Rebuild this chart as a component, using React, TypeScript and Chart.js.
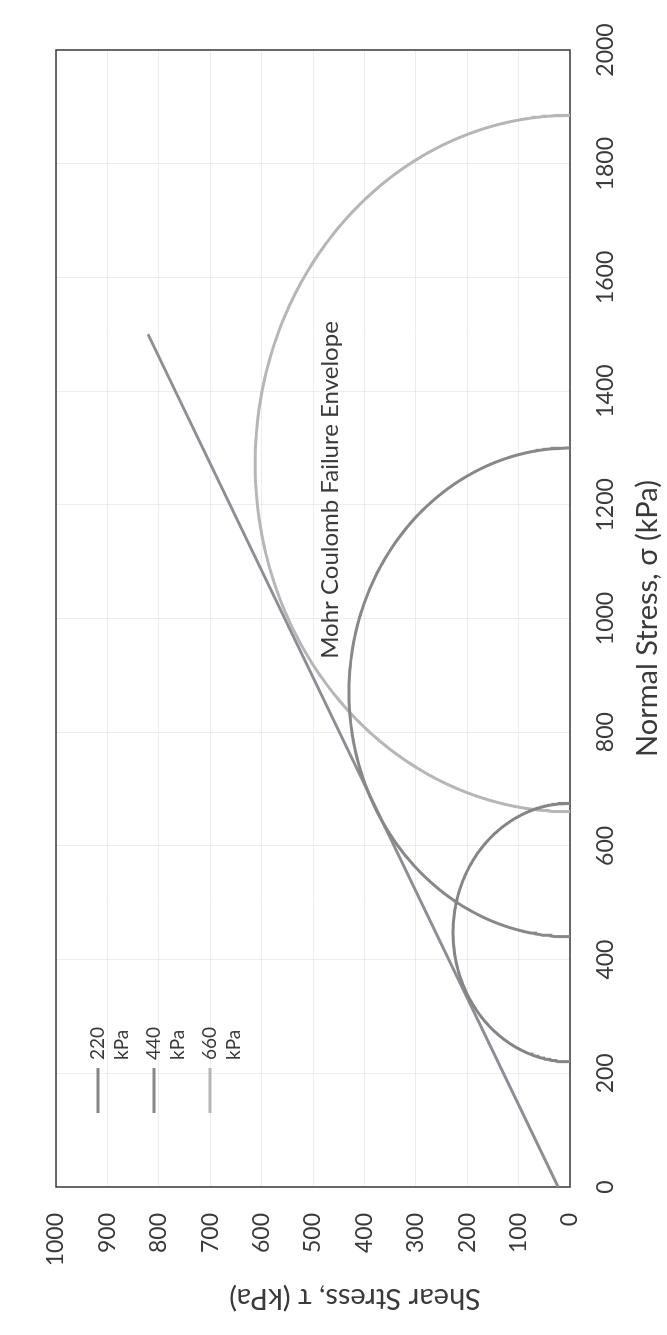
import React, { useEffect, useRef } from "react";
import { Chart, registerables } from "chart.js";

Chart.register(...registerables);

// ---- data ----
const seriesLabels = ["220 kPa", "440 kPa", "660 kPa"];
const minorPrincipal = [220, 440, 660]; // sigma3, left end of each Mohr circle
const majorPrincipal = [675, 1300, 1885]; // sigma1, right end of each Mohr circle
const seriesColors = ["#858585", "#888888", "#b6b6b6"];
const envelopeSigma = [0, 1500];
const envelopeTau = [23, 821];
const sigmaTicks = [0, 200, 400, 600, 800, 1000, 1200, 1400, 1600, 1800, 2000];
const tauTicks = [0, 100, 200, 300, 400, 500, 600, 700, 800, 900, 1000];
const chartTitle = "Mohr Coulomb Failure Envelope";
const xAxisTitle = "Normal Stress, σ (kPa)";
const yAxisTitle = "Shear Stress, τ (kPa)";

const W = 1335;
const H = 667;
const FONT = "Lato, 'Open Sans', sans-serif";
const TEXT = "#3a3a3a";

function semicircle(s3: number, s1: number) {
  const c = (s1 + s3) / 2;
  const r = (s1 - s3) / 2;
  const pts: { x: number; y: number }[] = [];
  for (let a = 0; a <= 180; a += 1) {
    const t = (a * Math.PI) / 180;
    pts.push({ x: c - r * Math.cos(t), y: r * Math.sin(t) });
  }
  return pts;
}

const decor = {
  id: "decor",
  beforeDatasetsDraw(chart: any) {
    const { ctx, chartArea: a } = chart;
    ctx.save();
    ctx.strokeStyle = "#3a3a3a";
    ctx.lineWidth = 1.5;
    ctx.strokeRect(a.left, a.top, a.right - a.left, a.bottom - a.top);
    ctx.restore();
  },
  afterDraw(chart: any) {
    const { ctx, chartArea: a } = chart;
    ctx.save();
    // legend
    ctx.font = `19px ${FONT}`;
    ctx.fillStyle = TEXT;
    ctx.textBaseline = "middle";
    ctx.textAlign = "left";
    seriesLabels.forEach((lab, i) => {
      const y = 98 + 56 * i;
      ctx.strokeStyle = seriesColors[i];
      ctx.lineWidth = 3;
      ctx.beginPath();
      ctx.moveTo(222, y);
      ctx.lineTo(267, y);
      ctx.stroke();
      const parts = lab.split(" ");
      ctx.fillText(parts[0], 275, y);
      ctx.fillText(parts[1], 275, y + 24);
    });
    // chart title
    ctx.font = `24px ${FONT}`;
    ctx.textAlign = "center";
    ctx.fillText(chartTitle, 845, 330);
    // axis titles
    ctx.font = `29px ${FONT}`;
    ctx.fillText(xAxisTitle, (a.left + a.right) / 2, 648);
    ctx.translate(37, 355);
    ctx.rotate(-Math.PI / 2);
    ctx.fillText(yAxisTitle, 0, 0);
    ctx.restore();
  },
};

export default function App() {
  const ref = useRef<HTMLCanvasElement | null>(null);
  useEffect(() => {
    if (!ref.current) return;
    const datasets: any[] = seriesLabels.map((lab, i) => ({
      label: lab,
      data: semicircle(minorPrincipal[i], majorPrincipal[i]),
      showLine: true,
      borderColor: seriesColors[i],
      borderWidth: 3,
      pointRadius: 0,
      tension: 0,
    }));
    datasets.push({
      label: "Envelope",
      data: envelopeSigma.map((s, i) => ({ x: s, y: envelopeTau[i] })),
      showLine: true,
      borderColor: "#8d8d95",
      borderWidth: 3,
      pointRadius: 0,
    });
    const tickFont = { family: FONT, size: 23 };
    const chart = new Chart(ref.current, {
      type: "scatter",
      data: { datasets },
      plugins: [decor],
      options: {
        animation: false,
        responsive: false,
        devicePixelRatio: 1,
        layout: { padding: { left: 0, right: 50, top: 56, bottom: 0 } },
        plugins: { legend: { display: false }, tooltip: { enabled: false } },
        scales: {
          x: {
            type: "linear",
            min: 0,
            max: 2000,
            afterBuildTicks: (s: any) => {
              s.ticks = sigmaTicks.map((v) => ({ value: v }));
            },
            afterFit: (s: any) => {
              s.height = 97;
            },
            grid: { color: "rgba(0,0,0,0.07)", drawTicks: false },
            border: { display: false },
            ticks: {
              padding: 22,
              color: TEXT,
              font: tickFont,
              maxRotation: 0,
              autoSkip: false,
              callback: (v: any) => String(v),
            },
          },
          y: {
            type: "linear",
            min: 0,
            max: 1000,
            afterBuildTicks: (s: any) => {
              s.ticks = tauTicks.map((v) => ({ value: v }));
            },
            afterFit: (s: any) => {
              s.width = 148;
            },
            grid: { color: "rgba(0,0,0,0.07)", drawTicks: false },
            border: { display: false },
            ticks: {
              padding: 26,
              color: TEXT,
              font: tickFont,
              autoSkip: false,
              callback: (v: any) => String(v),
            },
          },
        },
      },
    });
    return () => chart.destroy();
  }, []);

  return (
    <div
      style={{
        position: "fixed",
        left: 0,
        top: 0,
        width: 667,
        height: 1335,
        overflow: "hidden",
        background: "#fff",
      }}
    >
      <div
        style={{
          position: "absolute",
          left: 0,
          top: 0,
          width: W,
          height: H,
          transformOrigin: "0 0",
          transform: `translate(0px, ${W}px) rotate(-90deg)`,
        }}
      >
        <canvas ref={ref} width={W} height={H} style={{ width: W, height: H, display: "block" }} />
      </div>
    </div>
  );
}
